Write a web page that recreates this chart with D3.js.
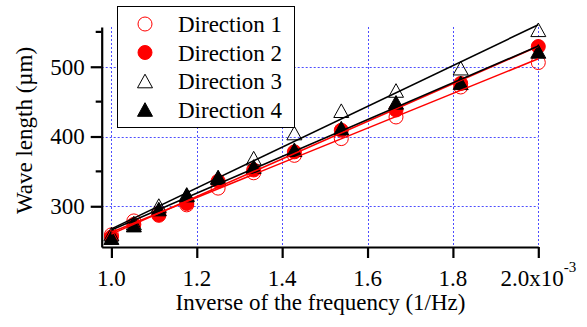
<!DOCTYPE html>
<html>
<head>
<meta charset="utf-8">
<script src="https://cdn.jsdelivr.net/npm/d3@7"></script>
<style>
  body { margin: 0; background: #fff; }
  svg text { font-family: "Liberation Serif", Tinos, "Times New Roman", Times, "DejaVu Serif", serif !important; }
</style>
</head>
<body>
<script>
// inverse frequency, in units of 1e-3 1/Hz (f = 1000 ... 500 Hz)
const invFreq = [1.0, 1.0526, 1.1111, 1.1765, 1.25, 1.3333, 1.4286, 1.5385, 1.6667, 1.8182, 2.0];
// wave length (um)
const dir1 = [259, 279, 290, 302, 326, 348, 373, 397, 428, 471, 506];
const dir2 = [256, 274, 287, 304, 336, 352, 378, 409, 438, 476, 529];
const dir3 = [260, 276, 301, 317, 342, 369, 405, 437, 466, 498, 553];
const dir4 = [255, 273, 296, 316, 341, 357, 381, 412, 449, 477, 522];
const seriesNames = ['Direction 1', 'Direction 2', 'Direction 3', 'Direction 4'];
const xTicks = [1.0, 1.2, 1.4, 1.6, 1.8, 2.0];
const yTicks = [300, 400, 500];
const yMinorTicks = [350, 450, 550];

const W = 587, H = 327;
const margin = {left: 101.7, right: 538.3, top: 27, bottom: 247};
const serif = '"Liberation Serif", Tinos, "Times New Roman", Times, "DejaVu Serif", serif';

const svg = d3.select('body').append('svg')
    .attr('width', W)
    .attr('height', H)
    .attr('font-family', serif);

const x = d3.scaleLinear().domain([0.9773, 2.0]).range([margin.left, margin.right]);
const y = d3.scaleLinear().domain([241.6, 557]).range([margin.bottom, margin.top]);

// styles per direction
const styles = [
    {shape: 'circle', fill: 'none', stroke: '#ff0000', line: '#ff0000'},
    {shape: 'circle', fill: '#ff0000', stroke: '#ff0000', line: '#ff0000'},
    {shape: 'triangle', fill: 'none', stroke: '#000', line: '#000'},
    {shape: 'triangle', fill: '#000', stroke: '#000', line: '#000'}
];
const series = [dir1, dir2, dir3, dir4].map((vals, i) => ({
    name: seriesNames[i],
    style: styles[i],
    points: vals.map((v, j) => ({x: invFreq[j], y: v}))
}));

// grid
const grid = svg.append('g')
    .attr('stroke', '#4d4dff')
    .attr('stroke-width', 1)
    .attr('stroke-dasharray', '2,2');
grid.selectAll('line.v')
    .data(xTicks)
    .enter().append('line')
    .attr('x1', d => Math.round(x(d)) + 0.5)
    .attr('x2', d => Math.round(x(d)) + 0.5)
    .attr('y1', margin.top)
    .attr('y2', margin.bottom);
grid.selectAll('line.h')
    .data(yTicks)
    .enter().append('line')
    .attr('x1', margin.left)
    .attr('x2', margin.right)
    .attr('y1', d => Math.round(y(d)) + 0.5)
    .attr('y2', d => Math.round(y(d)) + 0.5);

// markers
function markerPath(shape, r) {
    if (shape === 'circle') {
        return `M${-r},0A${r},${r} 0 1,0 ${r},0A${r},${r} 0 1,0 ${-r},0Z`;
    }
    const w = 7.5, h = 6.8;
    return `M0,${-h}L${w},${h}L${-w},${h}Z`;
}
series.forEach(s => {
    svg.append('g')
        .selectAll('path')
        .data(s.points)
        .enter().append('path')
        .attr('d', markerPath(s.style.shape, 7))
        .attr('transform', d => `translate(${x(d.x)},${y(d.y)})`)
        .attr('fill', s.style.fill)
        .attr('stroke', s.style.stroke)
        .attr('stroke-width', 1);
});

// least-squares fit lines
function fit(points) {
    const mx = d3.mean(points, p => p.x), my = d3.mean(points, p => p.y);
    const b = d3.sum(points, p => (p.x - mx) * (p.y - my)) / d3.sum(points, p => (p.x - mx) ** 2);
    return xv => my + b * (xv - mx);
}
series.forEach(s => {
    const f = fit(s.points);
    const x0 = d3.min(invFreq), x1 = d3.max(invFreq);
    svg.append('line')
        .attr('x1', x(x0)).attr('y1', y(f(x0)))
        .attr('x2', x(x1)).attr('y2', y(f(x1)))
        .attr('stroke', s.style.line)
        .attr('stroke-width', 1.6);
});

// axes
const fontSize = 23;
const xAxis = svg.append('g')
    .attr('transform', `translate(0,${margin.bottom})`)
    .call(d3.axisBottom(x).tickValues(xTicks).tickSize(11).tickSizeOuter(0).tickFormat(''));
xAxis.selectAll('path, line').attr('stroke', '#000').attr('stroke-width', 2.2);
svg.append('g').selectAll('text')
    .data(xTicks)
    .enter().append('text')
    .attr('x', d => x(d))
    .attr('y', 286)
    .attr('text-anchor', 'middle')
    .attr('font-size', fontSize)
    .each(function (d, i) {
        const t = d3.select(this);
        t.append('tspan').text(d3.format('.1f')(d) + (i === xTicks.length - 1 ? 'x10' : ''));
        if (i === xTicks.length - 1) {
            t.append('tspan').attr('dy', -14).attr('font-size', 15).text('-3');
        }
    });

const yAxis = svg.append('g')
    .attr('transform', `translate(${margin.left},0)`)
    .call(d3.axisLeft(y).tickValues(yTicks).tickSize(11).tickSizeOuter(0).tickPadding(6).tickFormat(d3.format('d')));
yAxis.attr('font-family', serif);
yAxis.selectAll('path, line').attr('stroke', '#000').attr('stroke-width', 2.2);
yAxis.selectAll('text')
    .attr('font-size', fontSize)
    .attr('fill', '#000');
svg.append('g')
    .attr('transform', `translate(${margin.left},0)`)
    .selectAll('line')
    .data(yMinorTicks)
    .enter().append('line')
    .attr('x1', -6).attr('x2', 0)
    .attr('y1', d => y(d)).attr('y2', d => y(d))
    .attr('stroke', '#000').attr('stroke-width', 2.2);

// axis titles
svg.append('text')
    .attr('x', 320.5)
    .attr('y', 310)
    .attr('text-anchor', 'middle')
    .attr('font-size', fontSize)
    .text('Inverse of the frequency (1/Hz)');
svg.append('text')
    .attr('transform', 'translate(32,130.5) rotate(-90)')
    .attr('text-anchor', 'middle')
    .attr('font-size', fontSize)
    .text('Wave length (\u00b5m)');

// legend
const legend = svg.append('g');
legend.append('rect')
    .attr('x', 117.5).attr('y', 6.5)
    .attr('width', 177).attr('height', 121)
    .attr('fill', '#fff')
    .attr('stroke', '#000')
    .attr('stroke-width', 1);
series.forEach((s, i) => {
    const cy = 24 + i * 28.5;
    legend.append('path')
        .attr('d', markerPath(s.style.shape, 7))
        .attr('transform', `translate(145,${cy})`)
        .attr('fill', s.style.fill)
        .attr('stroke', s.style.stroke)
        .attr('stroke-width', 1);
    legend.append('text')
        .attr('x', 178)
        .attr('y', cy + 8)
        .attr('font-size', fontSize)
        .text(s.name);
});
</script>
</body>
</html>
